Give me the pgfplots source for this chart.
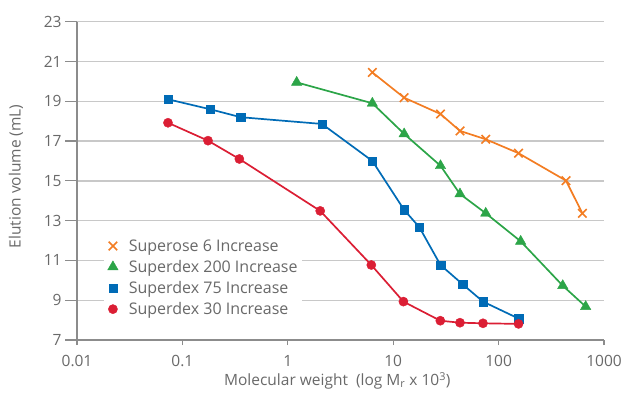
\documentclass[border=0pt]{standalone}
\usepackage{fontspec}
\setmainfont{Open Sans}
\usepackage{pgfplots}
\pgfplotsset{compat=1.18}
\definecolor{cOr}{RGB}{243,125,35}
\definecolor{cGr}{RGB}{44,165,72}
\definecolor{cBl}{RGB}{0,107,182}
\definecolor{cRd}{RGB}{219,30,52}
\definecolor{cGrid}{RGB}{200,200,200}
\definecolor{cAxis}{RGB}{140,140,140}
\definecolor{cText}{RGB}{105,105,105}
\begin{document}
\begin{tikzpicture}[x=1bp,y=1bp]
\useasboundingbox (0,0) rectangle (624,394);
\begin{axis}[
  at={(77bp,54bp)}, anchor=south west,
  scale only axis, width=527bp, height=318.3bp,
  xmode=log, xmin=0.01, xmax=1000, ymin=7, ymax=23,
  xtick={0.01,0.1,1,10,100,1000}, xticklabels={0.01,0.1,1,10,100,1000},
  xminorticks=false,
  ytick={7,9,11,13,15,17,19,21,23},
  axis x line*=bottom, axis y line*=left,
  axis line style={-, draw=cAxis, line width=1.2bp},
  ymajorgrids, grid style={draw=cGrid, line width=1.4bp},
  tick align=outside, major tick length=12bp,
  tick style={draw=cAxis, line width=1.2bp},
  xtick style={/pgfplots/major tick length=5bp},
  /pgf/number format/assume math mode=true,
  ticklabel style={font=\fontsize{15.5bp}{18bp}\selectfont, text=cText},
  xlabel={Molecular weight\ \ (log M\textsubscript{r} x 10\textsuperscript{3})},
  ylabel={Elution volume (mL)},
  label style={font=\fontsize{15.5bp}{18bp}\selectfont, text=cText},
  xlabel style={at={(axis description cs:0.494,0)}, yshift=-41bp, anchor=center},
  ylabel style={at={(axis description cs:-0.116,0.514)}, anchor=center},
  legend style={at={(rel axis cs:0.051,0.329)}, anchor=north west, draw=none, fill=white,
    font=\fontsize{16bp}{19bp}\selectfont, text=cText, row sep=3.5bp, inner sep=2bp},
  legend cell align=left,
  legend image code/.code={\path (0bp,0bp) (19bp,0bp); \draw[#1] plot coordinates {(6bp,0bp)};},
  every axis plot/.append style={line width=1.7bp},
]
\addlegendimage{only marks, color=cOr, mark=x, mark size=6bp, mark options={line width=1.6bp}}
\addlegendentry{Superose 6 Increase}
\addlegendimage{only marks, color=cGr, mark=triangle*, mark size=6bp, mark options={line width=0.4bp}}
\addlegendentry{Superdex 200 Increase}
\addlegendimage{only marks, color=cBl, mark=square*, mark size=4.2bp, mark options={line width=0.4bp}}
\addlegendentry{Superdex 75 Increase}
\addlegendimage{only marks, color=cRd, mark=*, mark size=4.6bp, mark options={line width=0.4bp}}
\addlegendentry{Superdex 30 Increase}

\addplot[forget plot, color=cOr, mark=x, mark size=6bp, mark options={line width=1.6bp}] coordinates {
(6.34,20.45) (12.7,19.18) (28.1,18.36) (43.0,17.51) (75.5,17.09) (154.5,16.39) (436,15.01) (623,13.37)};
\addplot[forget plot, color=cGr, mark=triangle*, mark size=6bp, mark options={line width=0.4bp}] coordinates {
(1.214,19.95) (6.34,18.90) (12.7,17.36) (28.1,15.76) (43.0,14.34) (75.5,13.37) (162,11.96) (406,9.73) (670,8.68)};
\addplot[forget plot, color=cBl, mark=square*, mark size=4.2bp, mark options={line width=0.4bp}] coordinates {
(0.073,19.10) (0.183,18.60) (0.357,18.20) (2.11,17.86) (6.34,16.0) (12.7,13.54) (17.7,12.67) (28.1,10.77) (45.6,9.80) (71.1,8.93) (154.5,8.08)};
\addplot[forget plot, color=cRd, mark=*, mark size=4.6bp, mark options={line width=0.4bp}] coordinates {
(0.073,17.92) (0.175,17.02) (0.347,16.10) (2.03,13.49) (6.2,10.77) (12.5,8.93) (28.0,7.97) (43.0,7.87) (71.1,7.84) (154.5,7.81)};
\end{axis}
\end{tikzpicture}
\end{document}
